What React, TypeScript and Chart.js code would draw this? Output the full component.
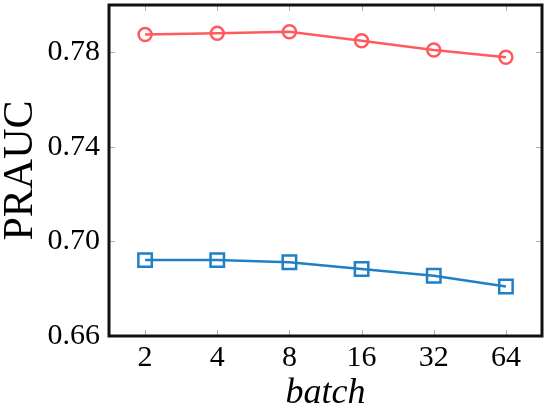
import React, { useEffect, useRef } from "react";
import { Chart, registerables } from "chart.js";

Chart.register(...registerables);

const categories = ["2", "4", "8", "16", "32", "64"];
const redSeries = [0.7875, 0.788, 0.7887, 0.7849, 0.781, 0.7779];
const blueSeries = [0.6921, 0.6921, 0.6912, 0.6883, 0.6855, 0.6809];
const yTicks = [0.66, 0.7, 0.74, 0.78];
const yMin = 0.66;
const yMax = 0.8;

const FONT = "'Liberation Serif', 'DejaVu Serif', serif";

const framePlugin = {
  id: "frame",
  beforeDatasetsDraw(chart: any) {
    const { ctx, chartArea, scales } = chart;
    const { left, right, top, bottom } = chartArea;
    const len = 6;
    ctx.save();
    ctx.strokeStyle = "#b0b0b0";
    ctx.lineWidth = 1;
    ctx.beginPath();
    scales.x.ticks.forEach((_t: any, i: number) => {
      const x = Math.round(scales.x.getPixelForTick(i)) + 0.5;
      ctx.moveTo(x, bottom);
      ctx.lineTo(x, bottom - len);
      ctx.moveTo(x, top);
      ctx.lineTo(x, top + len);
    });
    scales.y.ticks.forEach((t: any) => {
      const y = Math.round(scales.y.getPixelForValue(t.value)) + 0.5;
      ctx.moveTo(left, y);
      ctx.lineTo(left + len, y);
      ctx.moveTo(right, y);
      ctx.lineTo(right - len, y);
    });
    ctx.stroke();
    ctx.restore();
  },
  afterDraw(chart: any) {
    const { ctx, chartArea } = chart;
    const { left, right, top, bottom } = chartArea;
    ctx.save();
    ctx.strokeStyle = "#111";
    ctx.lineWidth = 3;
    ctx.strokeRect(left, top, right - left, bottom - top);
    ctx.restore();
  },
};

export default function App() {
  const ref = useRef<HTMLCanvasElement>(null);
  useEffect(() => {
    if (!ref.current) return;
    const chart = new Chart(ref.current, {
      type: "line",
      data: {
        labels: categories,
        datasets: [
          {
            data: redSeries,
            borderColor: "#ff5a5e",
            borderWidth: 2.5,
            pointStyle: "circle",
            pointRadius: 6.5,
            pointBorderWidth: 2.5,
            pointBorderColor: "#ff5a5e",
            pointBackgroundColor: "rgba(0,0,0,0)",
            tension: 0,
          },
          {
            data: blueSeries,
            borderColor: "#1f80c6",
            borderWidth: 2.5,
            pointStyle: "rect",
            pointRadius: 9.5,
            pointBorderWidth: 2.5,
            pointBorderColor: "#1f80c6",
            pointBackgroundColor: "rgba(0,0,0,0)",
            tension: 0,
          },
        ],
      },
      options: {
        animation: false,
        responsive: false,
        layout: { autoPadding: false, padding: { left: 0, right: 6, top: 5, bottom: 0 } },
        plugins: { legend: { display: false }, tooltip: { enabled: false } },
        scales: {
          x: {
            type: "category",
            offset: true,
            grid: { display: false, drawTicks: false },
            border: { display: false },
            ticks: {
              color: "#000",
              padding: 4,
              font: { family: FONT, size: 30 },
            },
            title: {
              display: true,
              text: "batch",
              color: "#000",
              font: { family: FONT, size: 36, style: "italic", lineHeight: 1 },
              padding: { top: 0, bottom: -1 },
            },
            afterFit(scale: any) {
              scale.height = 75;
              scale.paddingLeft = 0;
              scale.paddingRight = 0;
            },
          },
          y: {
            min: yMin,
            max: yMax,
            grid: { display: false, drawTicks: false },
            border: { display: false },
            afterBuildTicks(scale: any) {
              scale.ticks = yTicks.map((v) => ({ value: v }));
            },
            ticks: {
              color: "#000",
              padding: 9,
              font: { family: FONT, size: 30 },
              callback: (v: any) => Number(v).toFixed(2),
            },
            title: {
              display: true,
              text: "PRAUC",
              color: "#000",
              font: { family: FONT, size: 42, lineHeight: 1 },
              padding: { top: 0, bottom: 0 },
            },
            afterFit(scale: any) {
              scale.width = 109;
              scale.paddingTop = 0;
              scale.paddingBottom = 0;
            },
          },
        },
      },
      plugins: [framePlugin],
    } as any);
    return () => chart.destroy();
  }, []);
  return (
    <div style={{ position: "fixed", left: 0, top: 0, width: 548, height: 411, background: "#fff" }}>
      <canvas ref={ref} width={548} height={411} />
    </div>
  );
}
